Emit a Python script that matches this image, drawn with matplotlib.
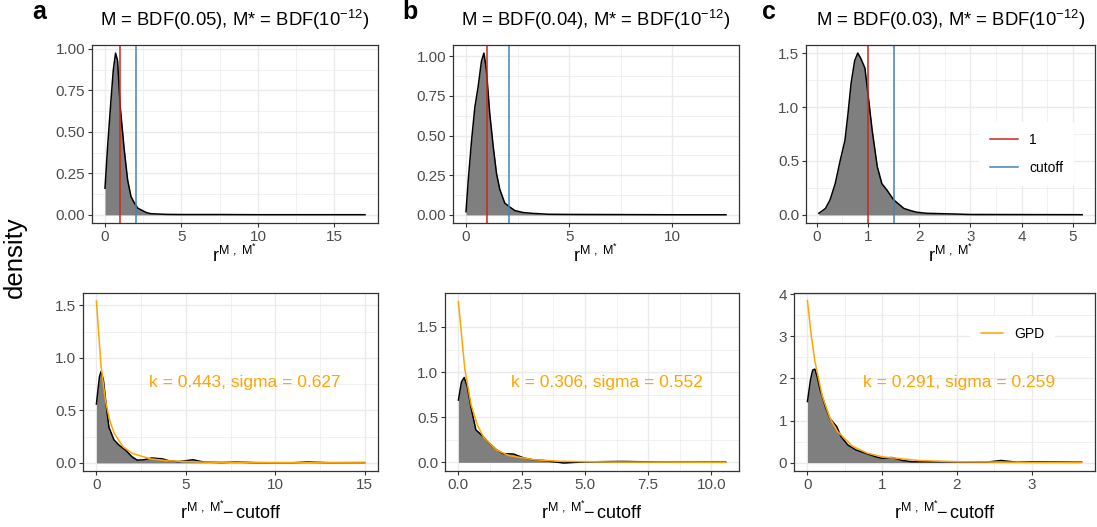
import numpy as np
import matplotlib
matplotlib.use("Agg")
import matplotlib.pyplot as plt
from matplotlib.lines import Line2D

plt.rcParams['font.family'] = ['Liberation Sans', 'DejaVu Sans']
plt.rcParams['mathtext.fontset'] = 'custom'
plt.rcParams['mathtext.rm'] = 'Liberation Sans'
plt.rcParams['mathtext.it'] = 'Liberation Sans'

# ---- top row: density of r^{M,M*} ----
top_x_a = [0, 0.17, 0.39, 0.54, 0.69, 0.82, 1.0, 1.26, 1.48, 1.7, 1.93, 2.15, 2.7, 3.0, 4.0, 5.0, 7.5, 10, 12.5, 15, 17.0]
top_y_a = [0.16, 0.41, 0.69, 0.87, 0.974, 0.93, 0.647, 0.39, 0.21, 0.11, 0.07, 0.04, 0.014, 0.007, 0.003, 0.002, 0.002, 0.001, 0.001, 0.001, 0.001]

top_x_b = [0, 0.11, 0.27, 0.43, 0.59, 0.75, 0.87, 0.99, 1.15, 1.32, 1.48, 1.64, 1.88, 2.12, 2.37, 2.77, 3.2, 4.0, 5.0, 7.5, 10, 12.6]
top_y_b = [0.02, 0.22, 0.47, 0.68, 0.81, 0.97, 1.02, 0.91, 0.64, 0.43, 0.26, 0.16, 0.074, 0.05, 0.027, 0.015, 0.01, 0.004, 0.003, 0.002, 0.001, 0.001]

top_x_c = [0.04, 0.17, 0.26, 0.36, 0.46, 0.55, 0.61, 0.67, 0.74, 0.8, 0.86, 0.94, 1.0, 1.08, 1.18, 1.27, 1.37, 1.5, 1.6, 1.7, 1.83, 1.95, 2.14, 2.4, 3.0, 4.0, 5.18]
top_y_c = [0.015, 0.06, 0.14, 0.29, 0.51, 0.69, 0.94, 1.22, 1.43, 1.5, 1.45, 1.36, 1.12, 0.79, 0.45, 0.29, 0.23, 0.14, 0.10, 0.06, 0.04, 0.025, 0.015, 0.012, 0.004, 0.003, 0.002]

cutoffs = [2.05, 2.07, 1.5]

# ---- bottom row: density of exceedances + GPD fit ----
bot_x_a = [0, 0.17, 0.26, 0.39, 0.54, 0.70, 0.98, 1.26, 1.64, 2.0, 2.29, 2.66, 3.1, 3.7, 4.06, 4.6, 5.4, 6.0, 7.0, 7.8, 9.0, 11.0, 11.8, 13.0, 15.0]
bot_y_a = [0.56, 0.82, 0.87, 0.79, 0.56, 0.34, 0.22, 0.17, 0.12, 0.057, 0.026, 0.03, 0.047, 0.038, 0.02, 0.012, 0.03, 0.008, 0.004, 0.008, 0.002, 0.002, 0.008, 0.002, 0.003]
gpd_x_a = [0, 0.25, 0.5, 0.75, 1.0, 1.5, 2.0, 3.0, 4.0, 6.0, 10.0, 15.0]
gpd_y_a = [1.54, 0.939, 0.596, 0.400, 0.280, 0.152, 0.091, 0.039, 0.020, 0.0072, 0.0018, 0.0006]

bot_x_b = [0, 0.12, 0.23, 0.35, 0.49, 0.69, 0.96, 1.23, 1.5, 1.77, 2.18, 2.59, 3.0, 3.3, 4.15, 5.0, 6.5, 8.0, 10.56]
bot_y_b = [0.69, 0.89, 0.94, 0.84, 0.62, 0.36, 0.29, 0.21, 0.14, 0.096, 0.092, 0.048, 0.025, 0.022, -0.007, 0.005, 0.01, 0.002, 0.003]
gpd_x_b = [0, 0.25, 0.5, 0.75, 1.0, 1.5, 2.0, 3.0, 4.0, 6.0, 10.56]
gpd_y_b = [1.78, 1.041, 0.638, 0.411, 0.276, 0.137, 0.075, 0.028, 0.012, 0.0035, 0.0005]

bot_x_c = [0, 0.04, 0.07, 0.10, 0.13, 0.17, 0.24, 0.30, 0.39, 0.45, 0.54, 0.65, 0.78, 0.91, 1.0, 1.13, 1.27, 1.40, 1.6, 2.0, 2.4, 2.59, 2.8, 3.0, 3.67]
bot_y_c = [1.45, 1.96, 2.2, 2.22, 2.04, 1.73, 1.33, 1.05, 0.86, 0.62, 0.42, 0.30, 0.22, 0.14, 0.10, 0.12, 0.05, 0.02, 0.02, 0.02, 0.01, 0.05, 0.01, 0.02, 0.01]
gpd_x_c = [0, 0.05, 0.1, 0.2, 0.3, 0.4, 0.6, 0.8, 1.0, 1.5, 2.0, 3.0, 3.67]
gpd_y_c = [3.85, 3.03, 2.407, 1.572, 1.064, 0.744, 0.393, 0.224, 0.137, 0.048, 0.021, 0.0056, 0.0027]

titles = ["M = BDF(0.05), M* = BDF($\\mathregular{10^{-12}}$)",
          "M = BDF(0.04), M* = BDF($\\mathregular{10^{-12}}$)",
          "M = BDF(0.03), M* = BDF($\\mathregular{10^{-12}}$)"]
fit_labels = ["k = 0.443, sigma = 0.627", "k = 0.306, sigma = 0.552", "k = 0.291, sigma = 0.259"]
panel_letters = ["a", "b", "c"]

W, H = 1097, 527
fig = plt.figure(figsize=(W / 100, H / 100), dpi=100)


def px_axes(l, t, r, b):
    return fig.add_axes([l / W, 1 - b / H, (r - l) / W, (b - t) / H])


def style(ax, xmaj, ymaj, xlim, ylim, yfmt):
    ax.set_xlim(*xlim)
    ax.set_ylim(*ylim)
    ax.set_xticks(xmaj)
    ax.set_yticks(ymaj)
    xminor = [(xmaj[i] + xmaj[i + 1]) / 2 for i in range(len(xmaj) - 1)]
    yminor = [(ymaj[i] + ymaj[i + 1]) / 2 for i in range(len(ymaj) - 1)]
    ax.set_xticks(xminor, minor=True)
    ax.set_yticks(yminor, minor=True)
    ax.set_yticklabels([yfmt.format(v) for v in ymaj])
    ax.grid(True, which='major', color='#EBEBEB', lw=1.0)
    ax.grid(True, which='minor', color='#EBEBEB', lw=0.5)
    ax.set_axisbelow(True)
    ax.tick_params(which='minor', length=0)
    ax.tick_params(which='major', length=3, color='#333333', width=0.8,
                   labelsize=11, labelcolor='#4D4D4D', pad=2)
    for s in ax.spines.values():
        s.set_color('#333333')
        s.set_linewidth(0.9)


def white_legend(leg):
    leg.get_frame().set_edgecolor('none')
    leg.get_frame().set_facecolor('white')
    leg.get_frame().set_alpha(1)


top_rects = [(92, 45, 378, 223), (453, 45, 739, 223), (806, 45, 1095, 223)]
bot_rects = [(83, 293, 378, 471), (445, 293, 739, 471), (794, 293, 1095, 471)]

top_data = [(top_x_a, top_y_a), (top_x_b, top_y_b), (top_x_c, top_y_c)]
bot_data = [(bot_x_a, bot_y_a, gpd_x_a, gpd_y_a),
            (bot_x_b, bot_y_b, gpd_x_b, gpd_y_b),
            (bot_x_c, bot_y_c, gpd_x_c, gpd_y_c)]

top_xticks = [[0, 5, 10, 15], [0, 5, 10], [0, 1, 2, 3, 4, 5]]
top_yticks = [[0, 0.25, 0.5, 0.75, 1.0], [0, 0.25, 0.5, 0.75, 1.0], [0, 0.5, 1.0, 1.5]]
top_yfmt = ["{:.2f}", "{:.2f}", "{:.1f}"]
top_xlim = [(-0.85, 17.85), (-0.63, 13.23), (-0.21, 5.43)]
top_ylim = [(-0.049, 1.023), (-0.051, 1.071), (-0.075, 1.575)]

bot_xticks = [[0, 5, 10, 15], [0, 2.5, 5, 7.5, 10], [0, 1, 2, 3]]
bot_yticks = [[0, 0.5, 1.0, 1.5], [0, 0.5, 1.0, 1.5], [0, 1, 2, 3, 4]]
bot_yfmt = ["{:.1f}", "{:.1f}", "{:.0f}"]
bot_xlim = [(-0.75, 15.75), (-0.53, 11.09), (-0.18, 3.85)]
bot_ylim = [(-0.077, 1.617), (-0.096, 1.876), (-0.2, 4.03)]

letter_x = [32, 402, 762]

for i in range(3):
    # top
    ax = px_axes(*top_rects[i])
    x, y = top_data[i]
    ax.fill_between(x, 0, y, color='#7F7F7F', lw=0)
    ax.plot(x, y, color='black', lw=1.1)
    ax.axvline(1, color='#CD2626', lw=1.1)
    ax.axvline(cutoffs[i], color='#4682B4', lw=1.1)
    style(ax, top_xticks[i], top_yticks[i], top_xlim[i], top_ylim[i], top_yfmt[i])
    ax.set_xticklabels([("{:g}".format(v)) for v in top_xticks[i]])
    ax.set_xlabel("$\\mathregular{r^{M\\ ,\\ M^{*}}}$", fontsize=13, labelpad=0)
    if i == 2:
        handles = [Line2D([], [], color='#CD2626', lw=1.1),
                   Line2D([], [], color='#4682B4', lw=1.1)]
        leg = ax.legend(handles, ["1", "cutoff"], loc='center left',
                        bbox_to_anchor=(0.575, 0.39), frameon=True, fontsize=10,
                        handlelength=2.0, labelspacing=1.0, borderpad=0.8)
        white_legend(leg)
    cx = (top_rects[i][0] + top_rects[i][2]) / 2
    fig.text(cx / W, 1 - 20 / H, titles[i], ha='center', va='center', fontsize=13.3)

    # bottom
    ax = px_axes(*bot_rects[i])
    x, y, gx, gy = bot_data[i]
    ax.fill_between(x, 0, y, color='#7F7F7F', lw=0)
    ax.plot(x, y, color='black', lw=1.1)
    ax.plot(gx, gy, color='#FFA500', lw=1.1)
    style(ax, bot_xticks[i], bot_yticks[i], bot_xlim[i], bot_ylim[i], bot_yfmt[i])
    ax.set_xticklabels([("{:g}".format(v) if i != 1 else "{:.1f}".format(v)) for v in bot_xticks[i]])
    ax.set_xlabel("$\\mathregular{r^{M\\ ,\\ M^{*}}\\!\\!-cutoff}$", fontsize=13, labelpad=6)
    ax.text(0.55, 0.5, fit_labels[i], transform=ax.transAxes, color='#FFA500',
            fontsize=12.5, ha='center', va='center')
    if i == 2:
        leg = ax.legend([Line2D([], [], color='#FFA500', lw=1.1)], ["GPD"],
                        loc='center left', bbox_to_anchor=(0.56, 0.77), frameon=True,
                        fontsize=10, handlelength=1.6, borderpad=0.8)
        white_legend(leg)

    fig.text(letter_x[i] / W, 1 - 12 / H, panel_letters[i], fontsize=18,
             fontweight='bold', ha='left', va='center')

fig.text(15 / W, 1 - 257 / H, "density", rotation=90, fontsize=18.5,
         ha='center', va='center')

fig.savefig("out.png", dpi=100)
